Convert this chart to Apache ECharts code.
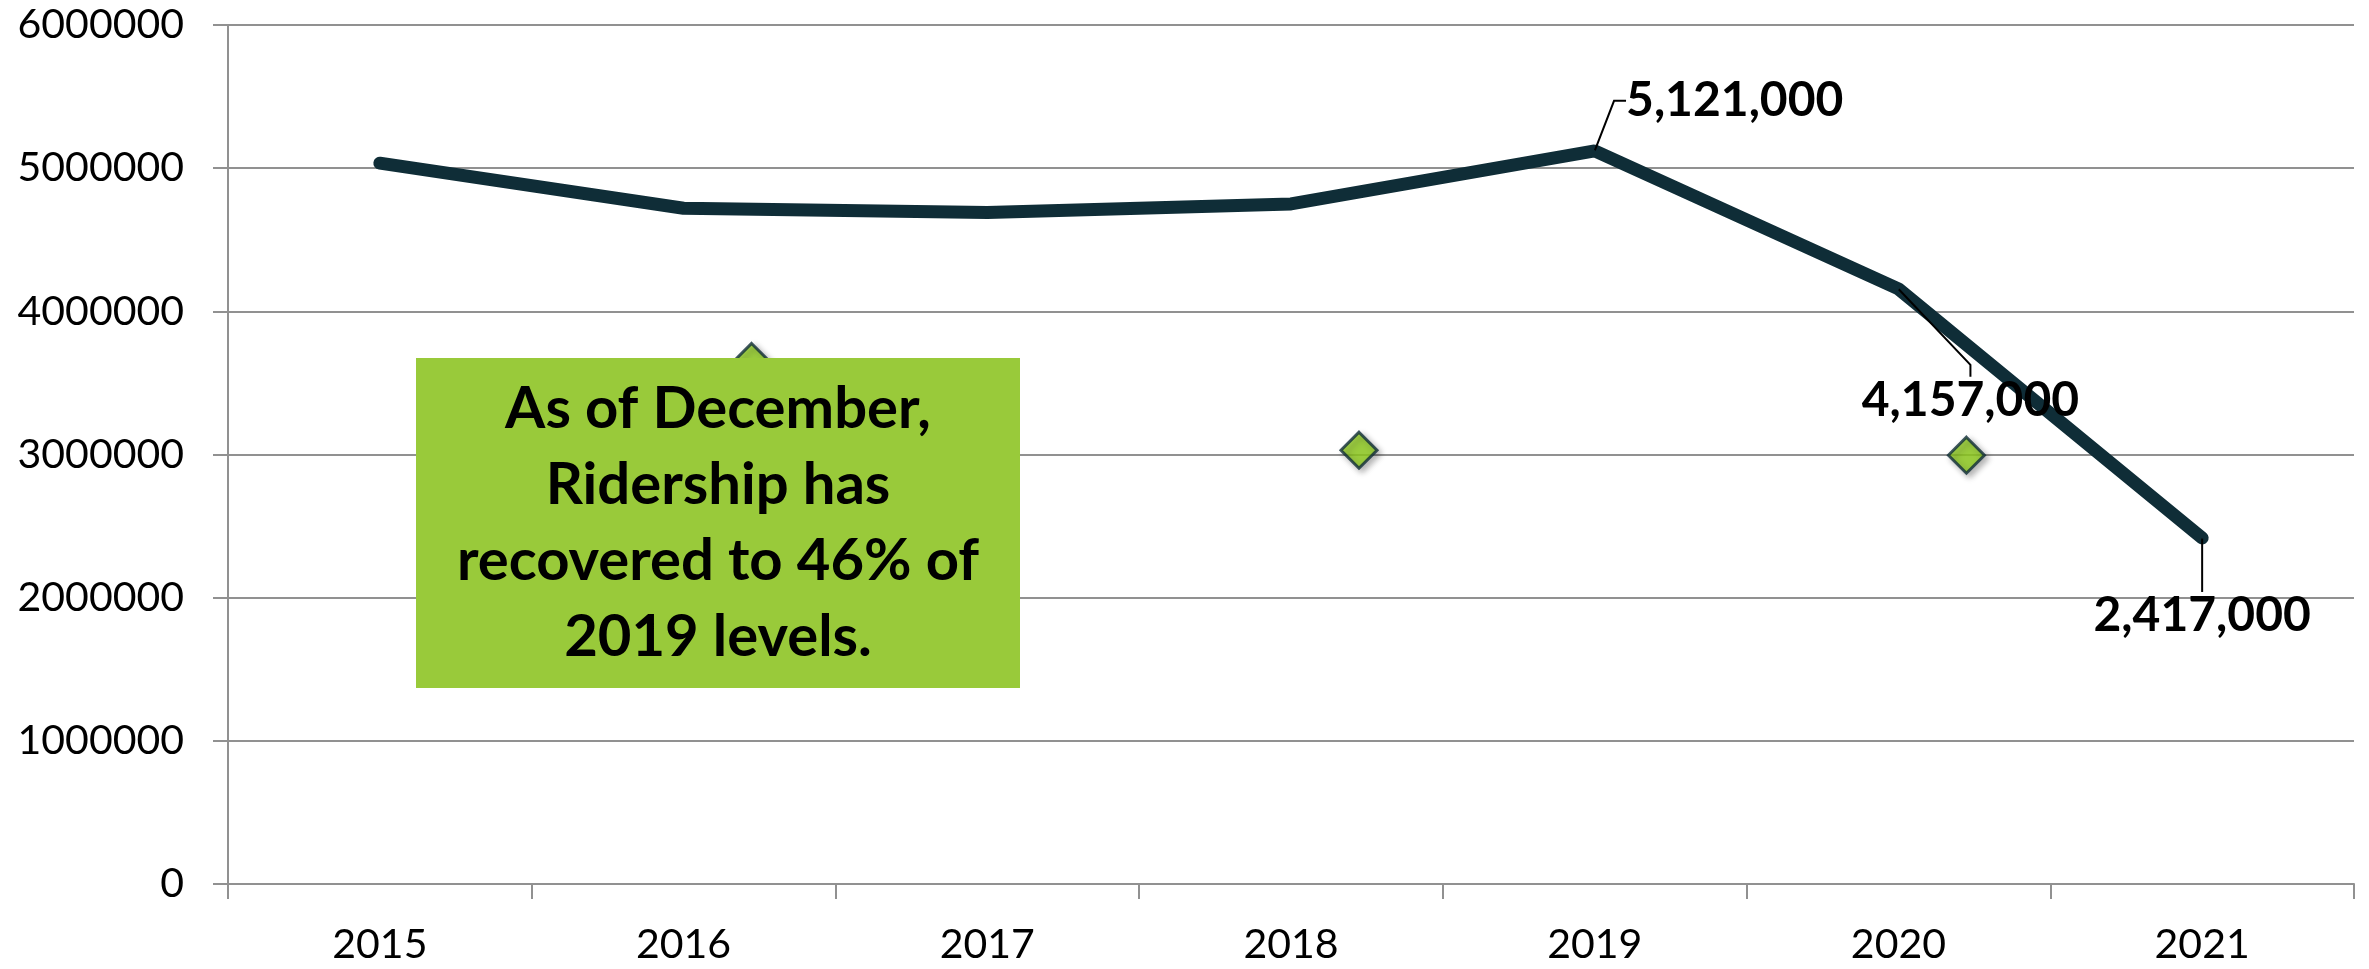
<!DOCTYPE html>
<html>
<head>
<meta charset="utf-8">
<script src="https://cdn.jsdelivr.net/npm/echarts@6/dist/echarts.min.js"></script>
<style>
    html, body { margin: 0; padding: 0; background: #fff; }
    #main { width: 2369px; height: 969px; }
</style>
</head>
<body>
<div id="main"></div>
<script>
// chart data
const years = ['2015', '2016', '2017', '2018', '2019', '2020', '2021']
const ridership = [5035000, 4720000, 4690000, 4750000, 5121000, 4157000, 2417000]
const markers = ['-', 3650000, '-', 3030000, '-', 2995000, '-']
const labelled = [4, 5, 6] // years that carry a value label
const yTicks = [0, 1000000, 2000000, 3000000, 4000000, 5000000, 6000000]
const noteLines = ['As of December,', 'Ridership has', 'recovered to 46% of', '2019 levels.']

const FONT = 'Lato, "Open Sans", sans-serif'
const GRID_COLOR = '#919191'

// where each value label sits relative to its point (dx, dy)
const labelShift = {
    4: [140, -50],
    5: [72, 112],
    6: [0, 78],
}

const fmtThousands = (v) => String(v).replace(/\B(?=(\d{3})+(?!\d))/g, ',')

function renderChart() {
    var chartDom = document.getElementById('main')
    var myChart = echarts.init(chartDom)

    let lineData = ridership.map((v, i) => {
        if (labelled.indexOf(i) < 0) return v
        return {
            value: v,
            label: {
                show: true,
                formatter: fmtThousands(v),
            },
        }
    })

    var option = {
        animation: false,
        backgroundColor: '#ffffff',
        grid: {
            left: 228,
            right: 15,
            top: 25,
            bottom: 85,
        },
        xAxis: {
            type: 'category',
            data: years,
            boundaryGap: true,
            axisLine: { lineStyle: { color: GRID_COLOR, width: 2 } },
            axisTick: {
                show: true,
                length: 15,
                lineStyle: { color: GRID_COLOR, width: 2 },
            },
            axisLabel: {
                fontFamily: FONT,
                fontSize: 41,
                color: '#000',
                margin: 40,
            },
        },
        yAxis: {
            type: 'value',
            min: yTicks[0],
            max: yTicks[yTicks.length - 1],
            interval: 1000000,
            axisLine: { show: true, lineStyle: { color: GRID_COLOR, width: 2 } },
            axisTick: {
                show: true,
                length: 15,
                lineStyle: { color: GRID_COLOR, width: 2 },
            },
            splitLine: { show: true, lineStyle: { color: GRID_COLOR, width: 2 } },
            axisLabel: {
                fontFamily: FONT,
                fontSize: 41,
                color: '#000',
                margin: 44,
                formatter: (v) => String(v),
            },
        },
        series: [
            {
                type: 'line',
                data: lineData,
                z: 3,
                symbol: 'circle',
                symbolSize: 1,
                showSymbol: true,
                itemStyle: { color: '#0f2d37' },
                lineStyle: {
                    color: '#0f2d37',
                    width: 13,
                    cap: 'round',
                },
                label: {
                    show: false,
                    position: 'inside',
                    fontFamily: FONT,
                    fontWeight: 'bold',
                    fontSize: 48,
                    color: '#000',
                },
                labelLine: {
                    show: true,
                    length2: 12,
                    lineStyle: { color: '#000', width: 2 },
                },
                labelLayout: (params) => {
                    let s = labelShift[params.dataIndex]
                    if (!s) return {}
                    return { dx: s[0], dy: s[1] }
                },
            },
            {
                type: 'scatter',
                data: markers,
                z: 2,
                symbol: 'diamond',
                symbolSize: [36, 36],
                symbolOffset: [68, 0],
                itemStyle: {
                    color: '#92d11e',
                    borderColor: '#0f2d37',
                    borderWidth: 3,
                    shadowColor: 'rgba(0,0,0,0.35)',
                    shadowBlur: 6,
                    shadowOffsetX: 3,
                    shadowOffsetY: 3,
                },
            },
        ],
        graphic: [
            {
                type: 'rect',
                left: 416,
                top: 358,
                z: 100,
                shape: { x: 0, y: 0, width: 604, height: 330 },
                style: { fill: '#99ca3a' },
            },
            {
                type: 'text',
                x: 718,
                y: 523,
                z: 101,
                style: {
                    text: noteLines.join('\n'),
                    fontFamily: FONT,
                    fontWeight: 'bold',
                    fontSize: 58,
                    lineHeight: 76,
                    fill: '#000',
                    align: 'center',
                    verticalAlign: 'middle',
                },
            },
        ],
    }
    option && myChart.setOption(option)
}

renderChart()
</script>
</body>
</html>
